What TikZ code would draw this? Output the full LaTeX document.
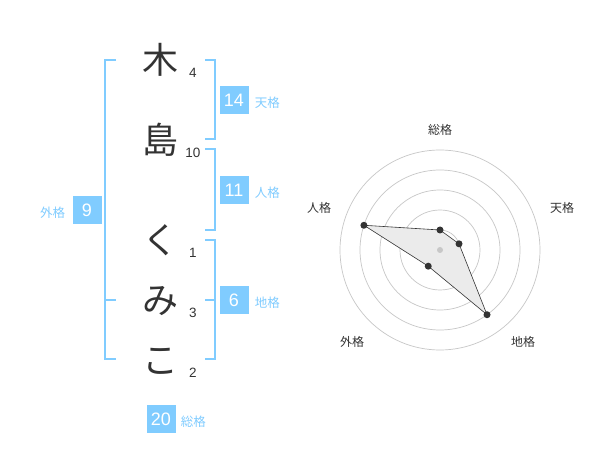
\documentclass[tikz,border=0pt]{standalone}
\usepackage{fontspec}
\setmainfont{Liberation Sans}
\newfontfamily\jp{Noto Sans CJK JP}
\usepackage{tikz}
\usetikzlibrary{positioning}
\definecolor{kaku}{RGB}{128,204,255}
\definecolor{ink}{RGB}{51,51,51}
\tikzset{
  font={\fontsize{12pt}{14}\selectfont}}

\begin{document}
\begin{tikzpicture}[x=1pt,y=-1pt]
\tikzstyle{every node}+=[inner sep=0pt]
\tikzstyle{moji}=[text=ink,font={\jp\fontsize{36pt}{36pt}\selectfont}]
\tikzstyle{kakusu}=[text=ink,font={\fontsize{13.5pt}{14pt}\selectfont}]
\tikzstyle{numbox}=[fill=kaku,text=white,minimum width=29pt,minimum height=28pt,font={\fontsize{18pt}{18pt}\selectfont}]
\tikzstyle{kakuname}=[text=kaku,font={\jp\fontsize{12.5pt}{13pt}\selectfont}]
\tikzstyle{bracket}=[kaku,line width=2pt]
\tikzstyle{ring}=[black!22,line width=0.7pt]
\tikzstyle{axislabel}=[text=ink,font={\jp\fontsize{12pt}{13pt}\selectfont}]
\useasboundingbox (0,0) rectangle (600,470);
\fill[white] (0,0) rectangle (600,470);
\node[moji] (ki) at (160,60) {木};
\node[moji] (shima) at (160,140) {島};
\node[moji] (ku) at (160,240) {く};
\node[moji] (mi) at (160,301) {み};
\node[moji] (ko) at (160,361) {こ};
\node[kakusu] (ki-n) at (193,73) {4};
\node[kakusu] (shima-n) at (193,153) {10};
\node[kakusu] (ku-n) at (193,253) {1};
\node[kakusu] (mi-n) at (193,313) {3};
\node[kakusu] (ko-n) at (193,373) {2};
\draw[bracket] (116,60) -- (105,60) -- (105,359) -- (116,359);
\draw[bracket] (105,300) -- (116,300);
\draw[bracket] (205,60) -- (215,60) -- (215,139) -- (205,139);
\draw[bracket] (205,149) -- (215,149) -- (215,230) -- (205,230);
\draw[bracket] (205,240) -- (215,240) -- (215,359) -- (205,359);
\draw[bracket] (215,300) -- (205,300);
\node[numbox] (ten) at (234,100) {14};
\node[kakuname, right=6pt of ten, yshift=-3pt] (ten-l) {天格};
\node[numbox] (jin) at (234,190) {11};
\node[kakuname, right=6pt of jin, yshift=-3pt] (jin-l) {人格};
\node[numbox] (chi) at (234,300) {6};
\node[kakuname, right=6pt of chi, yshift=-3pt] (chi-l) {地格};
\node[numbox] (gai) at (87,210) {9};
\node[kakuname, left=7pt of gai, yshift=-3pt] (gai-l) {外格};
\node[numbox] (sou) at (161,419) {20};
\node[kakuname, right=5pt of sou, yshift=-3pt] (sou-l) {総格};
\coordinate (c) at (440,250);
\draw[ring] (c) circle (20pt);
\draw[ring] (c) circle (40pt);
\draw[ring] (c) circle (60pt);
\draw[ring] (c) circle (80pt);
\draw[ring] (c) circle (100pt);
\node[axislabel] (ax-sou) at (440,130) {総格};
\node[axislabel] (ax-ten) at (562,208) {天格};
\node[axislabel] (ax-chi) at (523,342) {地格};
\node[axislabel] (ax-gai) at (352,342) {外格};
\node[axislabel] (ax-jin) at (319,208) {人格};
\path (c) ++(90:20pt) coordinate (p-sou);
\path (c) ++(18:20pt) coordinate (p-ten);
\path (c) ++(-54:80pt) coordinate (p-chi);
\path (c) ++(-126:20pt) coordinate (p-gai);
\path (c) ++(162:80pt) coordinate (p-jin);
\filldraw[fill=black!8,draw=ink,line width=0.6pt] (p-sou) -- (p-ten) -- (p-chi) -- (p-gai) -- (p-jin) -- cycle;
\fill[black!22] (c) circle (3pt);
\fill[ink] (p-sou) circle (3.5pt);
\fill[ink] (p-ten) circle (3.5pt);
\fill[ink] (p-chi) circle (3.5pt);
\fill[ink] (p-gai) circle (3.5pt);
\fill[ink] (p-jin) circle (3.5pt);
\end{tikzpicture}
\end{document}
